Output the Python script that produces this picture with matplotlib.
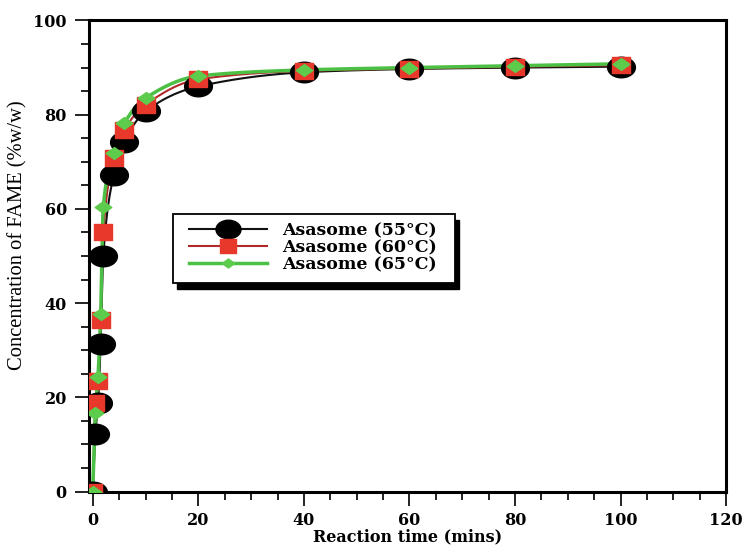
import numpy as np
import matplotlib
matplotlib.use("Agg")
import matplotlib.pyplot as plt
from matplotlib.path import Path
from matplotlib.patches import Rectangle
from matplotlib.transforms import Affine2D, IdentityTransform
from matplotlib.ticker import MultipleLocator

time_min = [0, 0.5, 1, 1.5, 2, 4, 6, 10, 20, 40, 60, 80, 100]
fame_55 = [0, 12.2, 18.7, 31.3, 50.0, 67.2, 74.3, 80.7, 86.0, 89.0, 89.7, 90.0, 90.2]
fame_60 = [0, 18.7, 23.5, 36.5, 55.0, 70.8, 76.8, 82.1, 87.5, 89.3, 89.8, 90.2, 90.5]
fame_65 = [0, 16.6, 24.4, 37.6, 60.4, 71.8, 78.2, 83.5, 88.2, 89.5, 90.0, 90.4, 90.8]
labels = ["Asasome (55°C)", "Asasome (60°C)", "Asasome (65°C)"]


def pchip(x, y, xs):
    x = np.asarray(x, float)
    y = np.asarray(y, float)
    h = np.diff(x)
    d = np.diff(y) / h
    n = len(x)
    m = np.zeros(n)
    for k in range(1, n - 1):
        if d[k - 1] * d[k] > 0:
            w1 = 2 * h[k] + h[k - 1]
            w2 = h[k] + 2 * h[k - 1]
            m[k] = (w1 + w2) / (w1 / d[k - 1] + w2 / d[k])
    m[0] = d[0]
    m[-1] = d[-1]
    idx = np.clip(np.searchsorted(x, xs) - 1, 0, n - 2)
    t = (xs - x[idx]) / h[idx]
    h00 = 2 * t**3 - 3 * t**2 + 1
    h10 = t**3 - 2 * t**2 + t
    h01 = -2 * t**3 + 3 * t**2
    h11 = t**3 - t**2
    return h00 * y[idx] + h10 * h[idx] * m[idx] + h01 * y[idx + 1] + h11 * h[idx] * m[idx + 1]


ellipse = Path.unit_circle().transformed(Affine2D().scale(1.35, 1.0))
rect = Path([(-0.6, -0.5), (0.6, -0.5), (0.6, 0.5), (-0.6, 0.5), (-0.6, -0.5)],
            [Path.MOVETO, Path.LINETO, Path.LINETO, Path.LINETO, Path.CLOSEPOLY])
diamond = Path([(-0.7, 0), (0, -0.5), (0.7, 0), (0, 0.5), (-0.7, 0)],
               [Path.MOVETO, Path.LINETO, Path.LINETO, Path.LINETO, Path.CLOSEPOLY])

fig = plt.figure(figsize=(7.43, 5.48), dpi=100)
ax = fig.add_axes([0.1198, 0.1031, 0.8577, 0.8595])

styles = [
    dict(data=fame_55, lc="#111111", mc="#000000", mk=ellipse, ms=20, lw=1.5, lms=18),
    dict(data=fame_60, lc="#b02a2a", mc="#e8372b", mk=rect, ms=13, lw=1.5, lms=12),
    dict(data=fame_65, lc="#4cc044", mc="#5dcc4c", mk=diamond, ms=12, lw=2.5, lms=9),
]

xs = np.linspace(0, 100, 2001)
handles = []
for st, lab in zip(styles, labels):
    ys = pchip(time_min, st["data"], xs)
    ax.plot(xs, ys, color=st["lc"], lw=st["lw"], zorder=2)
    ax.plot(time_min, st["data"], linestyle="none", marker=st["mk"], ms=st["ms"],
            color=st["mc"], mec=st["mc"], zorder=3)
    h, = ax.plot([], [], color=st["lc"], lw=st["lw"], marker=st["mk"], ms=st["lms"],
                 mfc=st["mc"], mec=st["mc"])
    handles.append(h)

ax.set_xlim(-0.7, 120)
ax.set_ylim(0, 100)
ax.xaxis.set_major_locator(MultipleLocator(20))
ax.xaxis.set_minor_locator(MultipleLocator(5))
ax.yaxis.set_major_locator(MultipleLocator(20))
ax.yaxis.set_minor_locator(MultipleLocator(5))
ax.tick_params(which="both", direction="out", width=1.4, color="#222222")
ax.tick_params(which="major", length=10, pad=6)
ax.tick_params(axis="x", which="major", pad=5)
ax.tick_params(which="minor", length=5.5)
for sp in ax.spines.values():
    sp.set_linewidth(2.2)

for lbl in ax.get_xticklabels() + ax.get_yticklabels():
    lbl.set_fontfamily("DejaVu Serif")
    lbl.set_fontweight("bold")
    lbl.set_fontsize(11.5)

ax.set_xlabel("Reaction time (mins)", fontfamily="DejaVu Serif", fontweight="bold",
              fontsize=11.5, labelpad=-1)
ax.set_ylabel("Concentration of FAME (%w/w)", fontfamily="Liberation Serif",
              fontsize=14.8)
ax.yaxis.set_label_coords(-0.097, 0.545)

leg = ax.legend(handles, labels, loc="upper left", bbox_to_anchor=(0.157, 0.571),
                borderaxespad=0, handlelength=4.5, handletextpad=0.85,
                labelspacing=0.0, borderpad=0.0, frameon=False,
                prop=dict(family="DejaVu Serif", weight="bold", size=12.5))
leg.set_zorder(6)

# frame with offset shadow, sized around the legend content
fig.canvas.draw()
bb = leg.get_window_extent()
pad_l, pad_r, pad_t, pad_b = 16, 18, 9, 9
x0, y0 = bb.x0 - pad_l, bb.y0 - pad_b
w, hgt = bb.width + pad_l + pad_r, bb.height + pad_t + pad_b
ax.add_patch(Rectangle((x0 + 4, y0 - 6), w, hgt, transform=IdentityTransform(),
                       facecolor="black", edgecolor="black", zorder=5, clip_on=False))
ax.add_patch(Rectangle((x0, y0), w, hgt, transform=IdentityTransform(),
                       facecolor="white", edgecolor="black", lw=1.3, zorder=5.5,
                       clip_on=False))

fig.savefig("out.png", dpi=100)
